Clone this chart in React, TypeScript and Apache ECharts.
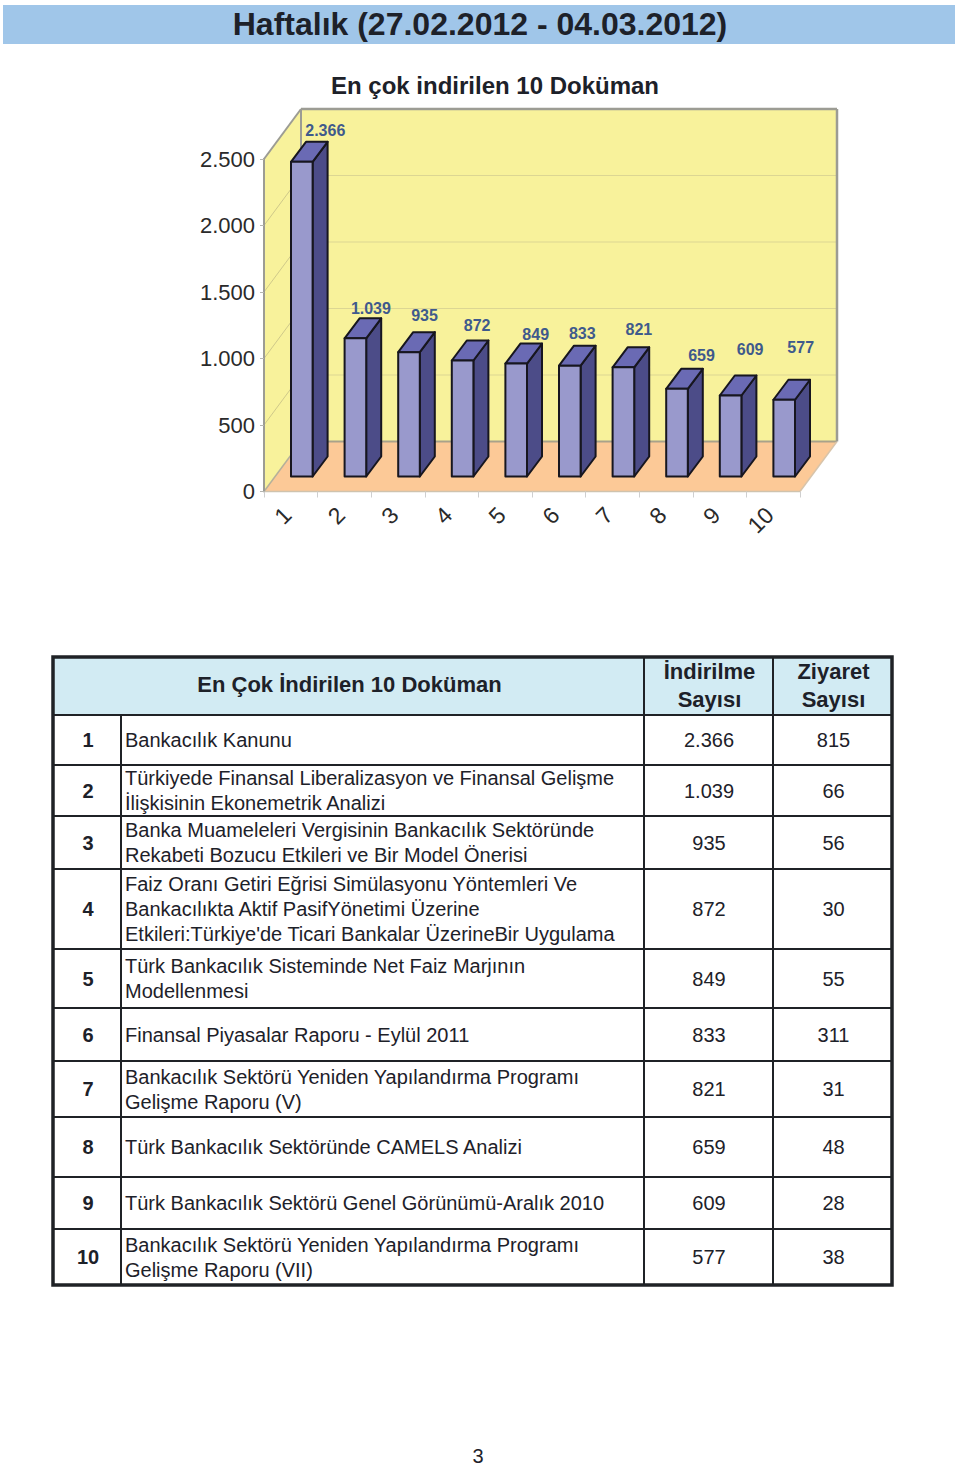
import React, { useEffect, useRef } from "react";
import * as echarts from "echarts";

const pageTitle = "Haftalık (27.02.2012 - 04.03.2012)";
const chartTitle = "En çok indirilen 10 Doküman";
const categories = ["1", "2", "3", "4", "5", "6", "7", "8", "9", "10"];
const downloads = [2366, 1039, 935, 872, 849, 833, 821, 659, 609, 577];
const visits = [815, 66, 56, 30, 55, 311, 31, 48, 28, 38];
const yTicks = [0, 500, 1000, 1500, 2000, 2500];
const tableHeader = ["En Çok İndirilen 10 Doküman", "İndirilme\nSayısı", "Ziyaret\nSayısı"];
const documents = [
  "Bankacılık Kanunu",
  "Türkiyede Finansal Liberalizasyon ve Finansal Gelişme\nİlişkisinin Ekonemetrik Analizi",
  "Banka Muameleleri Vergisinin Bankacılık Sektöründe\nRekabeti Bozucu Etkileri ve Bir Model Önerisi",
  "Faiz Oranı Getiri Eğrisi Simülasyonu Yöntemleri Ve\nBankacılıkta Aktif PasifYönetimi Üzerine\nEtkileri:Türkiye'de Ticari Bankalar ÜzerineBir Uygulama",
  "Türk Bankacılık Sisteminde Net Faiz Marjının\nModellenmesi",
  "Finansal Piyasalar Raporu - Eylül 2011",
  "Bankacılık Sektörü Yeniden Yapılandırma Programı\nGelişme Raporu (V)",
  "Türk Bankacılık Sektöründe CAMELS Analizi",
  "Türk Bankacılık Sektörü Genel Görünümü-Aralık 2010",
  "Bankacılık Sektörü Yeniden Yapılandırma Programı\nGelişme Raporu (VII)",
];
const pageNumber = "3";

// layout (not data)
const FONT = '"Liberation Sans", Arial, sans-serif';
const INK = "#1d2129";
const rowEdges = [715, 765, 816, 869, 949, 1008, 1061, 1117, 1177, 1229, 1285];
const colEdges = [53, 121, 644, 773, 892];
const TABLE_TOP = 657;
const WALL_DX = 37, WALL_DY = -50;
const BAR_W = 21.6, BAR_DX = 15, BAR_DY = -20, BAR_SHIFT_X = 11, BAR_SHIFT_Y = -15;
// hand-placed data-label nudges, relative to the bar's top centre
const labelNudge: [number, number][] = [
  [16, -11], [8, -10], [8, -17], [7, -15], [12, -9], [5, -12], [8, -18], [17, -13], [12, -26], [9, -32],
];

const fmt = (v: number) => {
  const s = String(v);
  return s.length > 3 ? s.slice(0, -3) + "." + s.slice(-3) : s;
};

function renderWalls(params: any, api: any) {
  const cs = params.coordSys;
  const l = cs.x, r = cs.x + cs.width, t = cs.y, b = cs.y + cs.height;
  const poly = (points: number[][], fill: string) => ({
    type: "polygon", shape: { points }, style: { fill, stroke: "none" },
  });
  const line = (x1: number, y1: number, x2: number, y2: number, stroke: string, lineWidth: number) => ({
    type: "line", shape: { x1, y1, x2, y2 }, style: { stroke, lineWidth, fill: "none" },
  });
  const ys = yTicks.map((v) => api.coord([0, v])[1]);
  const children: any[] = [
    poly([[l + WALL_DX, t + WALL_DY], [r + WALL_DX, t + WALL_DY], [r + WALL_DX, b + WALL_DY], [l + WALL_DX, b + WALL_DY]], "#f8f29b"),
    poly([[l, t], [l + WALL_DX, t + WALL_DY], [l + WALL_DX, b + WALL_DY], [l, b]], "#f8f29b"),
    poly([[l, b], [l + WALL_DX, b + WALL_DY], [r + WALL_DX, b + WALL_DY], [r, b]], "#fcc997"),
  ];
  ys.slice(1, -1).forEach((y: number) => {
    children.push(line(l + WALL_DX, y + WALL_DY, r + WALL_DX, y + WALL_DY, "#dcd693", 1));
    children.push(line(l, y, l + WALL_DX, y + WALL_DY, "#cfc98a", 1));
  });
  children.push(
    line(l + WALL_DX, b + WALL_DY, r + WALL_DX, b + WALL_DY, "#a9a28a", 2),
    line(l, b, l + WALL_DX, b + WALL_DY, "#b5b09a", 1.5),
    line(r, b, r + WALL_DX, b + WALL_DY, "#d8c4aa", 1.5),
    line(l, b, r, b, "#cfc3ae", 1.5),
    line(l, t, l + WALL_DX, t + WALL_DY, "#9c9c94", 2),
    line(l + WALL_DX, t + WALL_DY, r + WALL_DX, t + WALL_DY, "#9c9c94", 2.5),
    line(r + WALL_DX, t + WALL_DY, r + WALL_DX, b + WALL_DY, "#9c9c94", 2.5),
    line(l + WALL_DX, t + WALL_DY, l + WALL_DX, b + WALL_DY, "#9c9c94", 2)
  );
  return { type: "group", children };
}

function renderBar(_params: any, api: any) {
  const i = api.value(0), v = api.value(1);
  const top = api.coord([i, v]);
  const base = api.coord([i, 0]);
  const x0 = top[0] + BAR_SHIFT_X - BAR_W / 2, x1 = x0 + BAR_W;
  const yT = top[1] + BAR_SHIFT_Y, yB = base[1] + BAR_SHIFT_Y;
  const st = { stroke: "#17161f", lineWidth: 2, lineJoin: "round" };
  const [nx, ny] = labelNudge[i];
  return {
    type: "group",
    children: [
      { type: "polygon", shape: { points: [[x1, yT], [x1 + BAR_DX, yT + BAR_DY], [x1 + BAR_DX, yB + BAR_DY], [x1, yB]] }, style: { fill: "#4c4c88", ...st } },
      { type: "polygon", shape: { points: [[x0, yT], [x0 + BAR_DX, yT + BAR_DY], [x1 + BAR_DX, yT + BAR_DY], [x1, yT]] }, style: { fill: "#6a6ab4", ...st } },
      { type: "rect", shape: { x: x0, y: yT, width: BAR_W, height: yB - yT }, style: { fill: "#9999cc", ...st } },
      {
        type: "text",
        style: {
          text: fmt(v), x: (x0 + x1 + BAR_DX) / 2 + nx, y: yT + BAR_DY + ny,
          fill: "#3f5a8c", font: `bold 16px ${FONT}`, textAlign: "center", textVerticalAlign: "middle",
        },
      },
    ],
  };
}

function tableGraphics() {
  const els: any[] = [];
  const [xL, xNo, xDoc, xDl, xR] = colEdges;
  const BOTTOM = rowEdges[rowEdges.length - 1];
  const text = (str: string, x: number, y: number, size: number, bold: boolean, align: string) => ({
    type: "text", z: 20,
    style: {
      text: str, x, y, fill: INK, font: `${bold ? "bold " : ""}${size}px ${FONT}`,
      lineHeight: size > 21 ? 28 : 25, textAlign: align, textVerticalAlign: "middle",
    },
  });
  const line = (x1: number, y1: number, x2: number, y2: number, w: number) => ({
    type: "line", z: 15, shape: { x1, y1, x2, y2 }, style: { stroke: "#1f2226", lineWidth: w },
  });
  els.push({ type: "rect", z: 10, shape: { x: xL, y: TABLE_TOP, width: xR - xL, height: rowEdges[0] - TABLE_TOP }, style: { fill: "#d2ebf3" } });
  rowEdges.slice(0, -1).forEach((y) => els.push(line(xL, y, xR, y, 2)));
  els.push(line(xNo, rowEdges[0], xNo, BOTTOM, 2));
  els.push(line(xDoc, TABLE_TOP, xDoc, BOTTOM, 2));
  els.push(line(xDl, TABLE_TOP, xDl, BOTTOM, 2));
  els.push({ type: "rect", z: 16, shape: { x: xL, y: TABLE_TOP, width: xR - xL, height: BOTTOM - TABLE_TOP }, style: { fill: "none", stroke: "#1f2226", lineWidth: 3.5 } });
  const hY = (TABLE_TOP + rowEdges[0]) / 2;
  els.push(text(tableHeader[0], (xL + xDoc) / 2 + 1, hY - 2, 22, true, "center"));
  els.push(text(tableHeader[1], (xDoc + xDl) / 2 + 1, hY - 1, 22, true, "center"));
  els.push(text(tableHeader[2], (xDl + xR) / 2 + 1, hY - 1, 22, true, "center"));
  documents.forEach((doc, i) => {
    const y = (rowEdges[i] + rowEdges[i + 1]) / 2;
    els.push(text(categories[i], (xL + xNo) / 2 + 1, y, 20, true, "center"));
    els.push(text(doc, xNo + 4, y, 20, false, "left"));
    els.push(text(fmt(downloads[i]), (xDoc + xDl) / 2 + 0.5, y, 20, false, "center"));
    els.push(text(String(visits[i]), (xDl + xR) / 2 + 1, y, 20, false, "center"));
  });
  return els;
}

export default function App() {
  const ref = useRef<HTMLDivElement>(null);
  useEffect(() => {
    document.body.style.margin = "0";
    const chart = echarts.init(ref.current!, null, { renderer: "svg" });
    chart.setOption({
      animation: false,
      backgroundColor: "#ffffff",
      textStyle: { fontFamily: FONT },
      grid: { left: 264, top: 159, width: 536, height: 332.5 },
      xAxis: {
        type: "category", data: categories, z: 6,
        axisLine: { show: false },
        axisTick: { show: true, length: 6, lineStyle: { color: "#cfcfcf", width: 1 } },
        axisLabel: { rotate: 45, fontSize: 23, margin: 16, padding: [0, 5, 0, 0], color: "#2a2a2a", fontFamily: FONT, interval: 0 },
      },
      yAxis: {
        type: "value", min: 0, max: 2500, interval: 500, z: 6,
        splitLine: { show: false },
        axisLine: { show: true, lineStyle: { color: "#9c9c94", width: 2 } },
        axisTick: { show: true, length: 4, lineStyle: { color: "#b5b5b0", width: 1 } },
        axisLabel: { fontSize: 22, margin: 9, color: "#2a2a2a", fontFamily: FONT, formatter: (v: number) => fmt(v) },
      },
      series: [
        { type: "custom", z: 1, silent: true, renderItem: renderWalls, data: [[0, 0]], encode: { x: 0, y: 1 } },
        { type: "custom", z: 3, renderItem: renderBar, data: downloads.map((v, i) => [i, v]), encode: { x: 0, y: 1 } },
      ],
      graphic: {
        elements: [
          { type: "rect", shape: { x: 3, y: 5, width: 952, height: 39 }, style: { fill: "#a0c6e9" } },
          { type: "text", style: { text: pageTitle, x: 480, y: 24, fill: INK, font: `bold 32px ${FONT}`, textAlign: "center", textVerticalAlign: "middle" } },
          { type: "text", style: { text: chartTitle, x: 495, y: 85, fill: INK, font: `bold 24px ${FONT}`, textAlign: "center", textVerticalAlign: "middle" } },
          ...tableGraphics(),
          { type: "text", style: { text: pageNumber, x: 478, y: 1456, fill: INK, font: `20px ${FONT}`, textAlign: "center", textVerticalAlign: "middle" } },
        ],
      },
    });
    return () => chart.dispose();
  }, []);
  return <div ref={ref} style={{ position: "absolute", left: 0, top: 0, width: 960, height: 1467 }} />;
}
